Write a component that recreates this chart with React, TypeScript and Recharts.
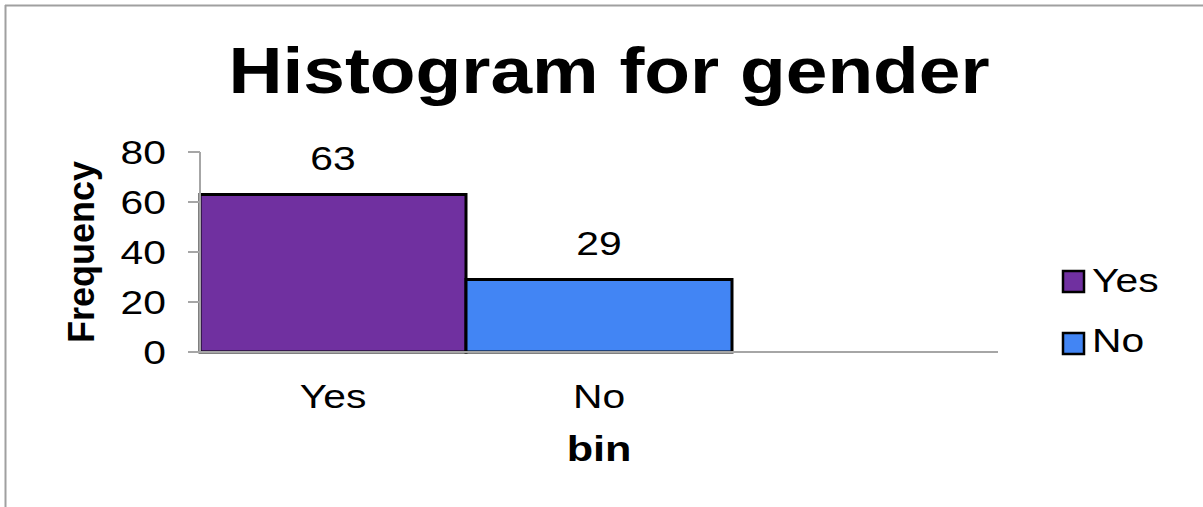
import React from 'react';
import { BarChart, Bar, XAxis, YAxis, Cell, LabelList, Label } from 'recharts';

const categories: string[] = ['Yes', 'No', ''];
const frequencies: (number | null)[] = [63, 29, null];
const barColors: string[] = ['#7030A0', '#4285F4', '#ffffff'];
const yTicks: number[] = [0, 20, 40, 60, 80];
const legendLabels: string[] = ['Yes', 'No'];
const legendColors: string[] = ['#7030A0', '#4285F4'];
const titleText = 'Histogram for gender';
const xTitle = 'bin';
const yTitle = 'Frequency';

const data = categories.map((c, i) => ({ bin: c, freq: frequencies[i] }));

const FONT = '"Liberation Sans", Arial, Helvetica, sans-serif';
const SX = 1.2;
const AXIS_GRAY = '#a6a6a6';

const YTick = (props: any) => {
  const { x, y, payload } = props;
  return (
    <g transform={`translate(${x},${y}) scale(${SX},1)`}>
      <text x={0} y={0} dy={12} textAnchor="end" fontFamily={FONT} fontSize={34} fill="#000">
        {payload.value}
      </text>
    </g>
  );
};

const XTick = (props: any) => {
  const { x, y, payload } = props;
  return (
    <g transform={`translate(${x},${y + 56}) scale(${SX},1)`}>
      <text x={0} y={0} textAnchor="middle" fontFamily={FONT} fontSize={34} fill="#000">
        {payload.value}
      </text>
    </g>
  );
};

const BarValue = (props: any) => {
  const { x, y, width, value } = props;
  if (value === null || value === undefined) return null;
  return (
    <g transform={`translate(${x + width / 2},${y - 25}) scale(${SX},1)`}>
      <text x={0} y={0} textAnchor="middle" fontFamily={FONT} fontSize={34} fill="#000">
        {value}
      </text>
    </g>
  );
};

const XTitle = (props: any) => {
  const vb = props.viewBox || { x: 200, y: 352, width: 798, height: 100 };
  const cx = vb.x + vb.width / 2;
  return (
    <g transform={`translate(${cx},${vb.y + 109}) scale(${SX},1)`}>
      <text x={0} y={0} textAnchor="middle" fontFamily={FONT} fontSize={36} fontWeight="bold" fill="#000">
        {xTitle}
      </text>
    </g>
  );
};

const YTitle = (props: any) => {
  const vb = props.viewBox || { x: 0, y: 152, width: 200, height: 200 };
  const cy = vb.y + vb.height / 2;
  return (
    <text
      x={0}
      y={0}
      transform={`translate(94,${cy}) rotate(-90)`}
      textAnchor="middle"
      fontFamily={FONT}
      fontSize={36}
      fontWeight="bold"
      fill="#000"
    >
      {yTitle}
    </text>
  );
};

export default function App() {
  return (
    <div style={{ position: 'absolute', left: 0, top: 0, width: 1203, height: 507, background: '#fff', overflow: 'hidden' }}>
      <BarChart
        width={1203}
        height={507}
        data={data}
        margin={{ top: 152, right: 205, bottom: 55, left: 0 }}
        barCategoryGap={0}
        barGap={0}
      >
        <XAxis
          dataKey="bin"
          height={100}
          axisLine={{ stroke: AXIS_GRAY, strokeWidth: 2 }}
          tickLine={false}
          tickSize={0}
          tickMargin={0}
          tick={<XTick />}
          interval={0}
        >
          <Label content={<XTitle />} />
        </XAxis>
        <YAxis
          width={200}
          domain={[0, 80]}
          ticks={yTicks}
          interval={0}
          axisLine={{ stroke: AXIS_GRAY, strokeWidth: 2 }}
          tickLine={{ stroke: AXIS_GRAY, strokeWidth: 2 }}
          tickSize={12}
          tickMargin={22}
          tick={<YTick />}
        >
          <Label content={<YTitle />} />
        </YAxis>
        <Bar dataKey="freq" stroke="#000" strokeWidth={3} isAnimationActive={false}>
          {data.map((d, i) => (
            <Cell key={i} fill={barColors[i]} />
          ))}
          <LabelList dataKey="freq" content={<BarValue />} />
        </Bar>
      </BarChart>
      <svg
        width={1203}
        height={507}
        style={{ position: 'absolute', left: 0, top: 0, pointerEvents: 'none' }}
      >
        <line x1={5} y1={5.5} x2={1203} y2={5.5} stroke="#a0a0a0" strokeWidth={2} />
        <line x1={5.5} y1={5} x2={5.5} y2={507} stroke="#a0a0a0" strokeWidth={2} />
        <g transform={`translate(609,93) scale(1.17,1)`}>
          <text x={0} y={0} textAnchor="middle" fontFamily={FONT} fontSize={64} fontWeight="bold" fill="#000">
            {titleText}
          </text>
        </g>
        {legendLabels.map((lab, i) => (
          <g key={lab}>
            <rect x={1063} y={271 + i * 62} width={21} height={21} fill={legendColors[i]} stroke="#000" strokeWidth={2.5} />
            <g transform={`translate(1092,${292 + i * 60}) scale(${SX},1)`}>
              <text x={0} y={0} fontFamily={FONT} fontSize={34} fill="#000">
                {lab}
              </text>
            </g>
          </g>
        ))}
      </svg>
    </div>
  );
}
